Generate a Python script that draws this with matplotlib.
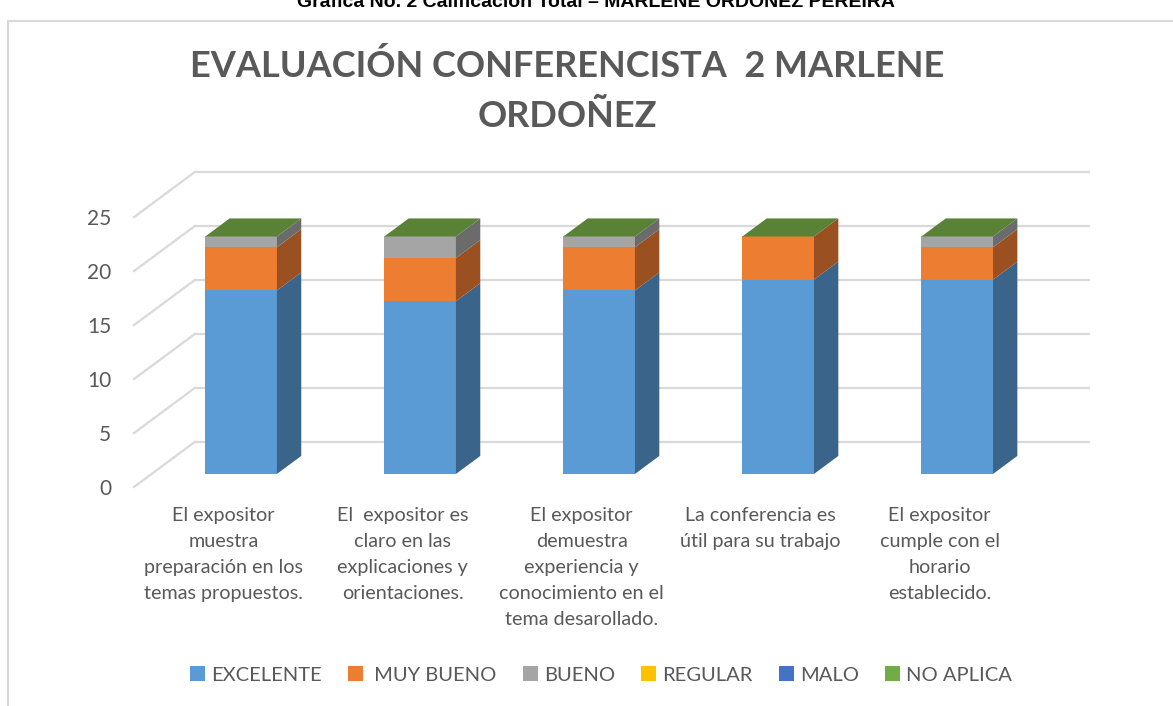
import matplotlib
matplotlib.use("Agg")
import matplotlib.pyplot as plt
from matplotlib.patches import Polygon, Patch
from matplotlib.lines import Line2D
from matplotlib.transforms import blended_transform_factory

# ---------------- data ----------------
categories = [
    "El expositor\nmuestra\npreparación en los\ntemas propuestos.",
    "El  expositor es\nclaro en las\nexplicaciones y\norientaciones.",
    "El expositor\ndemuestra\nexperiencia y\nconocimiento en el\ntema desarollado.",
    "La conferencia es\nútil para su trabajo",
    "El expositor\ncumple con el\nhorario\nestablecido.",
]
series_names = ["EXCELENTE", " MUY BUENO", "BUENO", "REGULAR", "MALO", "NO APLICA"]
excelente = [17, 16, 17, 18, 18]
muy_bueno = [4, 4, 4, 4, 3]
bueno = [1, 2, 1, 0, 1]
regular = [0, 0, 0, 0, 0]
malo = [0, 0, 0, 0, 0]
no_aplica = [0, 0, 0, 0, 0]
y_ticks = [0, 5, 10, 15, 20, 25]
title = "EVALUACIÓN CONFERENCISTA  2 MARLENE\nORDOÑEZ"
header = "Gráfica No. 2 Calificación Total – MARLENE ORDOÑEZ PEREIRA"

series = [excelente, muy_bueno, bueno, regular, malo, no_aplica]
front_colors = ["#5B9BD5", "#ED7D31", "#A5A5A5", "#FFC000", "#4472C4", "#70AD47"]
side_colors = ["#3A6489", "#9A5020", "#6B6B6B", "#A67C00", "#2C4A80", "#4A732F"]
top_colors = ["#6FA7DA", "#F08C47", "#B0B0B0", "#FFC926", "#5A84CC", "#598236"]

FONT = "Lato"
TXT = "#595959"
GRID = "#D9D9D9"

W, H = 1173, 706
fig = plt.figure(figsize=(W / 100, H / 100), dpi=100)

# oblique projection parameters (depth offsets in data units)
DX, DY = 0.34, 4.18
d0, d1 = 0.289, 0.689
bw = 0.4

ax_l, ax_r, ax_t, ax_b = 134, 1090, 172, 487
ax = fig.add_axes([ax_l / W, 1 - ax_b / H, (ax_r - ax_l) / W, (ax_b - ax_t) / H])
ax.set_xlim(-0.5, 4.5 + DX)
ax.set_ylim(0, 25 + DY)
for s in ax.spines.values():
    s.set_visible(False)
ax.set_xticks([])
ax.set_yticks(y_ticks)
ax.set_yticklabels([str(v) for v in y_ticks], fontsize=15, color=TXT, family=FONT)
ax.tick_params(axis="y", length=0, pad=16.5)
ax.patch.set_alpha(0)

# walls gridlines
for v in y_ticks:
    ax.plot([-0.5 + DX, 4.5 + DX], [v + DY, v + DY], color=GRID, lw=1.6, zorder=1,
            solid_capstyle="butt", clip_on=False)
    ax.plot([-0.5, -0.5 + DX], [v, v + DY], color=GRID, lw=1.6, zorder=1, clip_on=False)

# bars
n = len(categories)
for i in range(n):
    bottom = 0
    top_idx = 0
    for k, vals in enumerate(series):
        v = vals[i]
        if v > 0:
            ax.bar(i + d0 * DX, v, bottom=bottom + d0 * DY, width=bw,
                   color=front_colors[k], linewidth=0, zorder=3)
            xr0 = i + bw / 2 + d0 * DX
            xr1 = i + bw / 2 + d1 * DX
            side = Polygon([(xr0, bottom + d0 * DY), (xr1, bottom + d1 * DY),
                            (xr1, bottom + v + d1 * DY), (xr0, bottom + v + d0 * DY)],
                           closed=True, facecolor=side_colors[k], edgecolor="none", zorder=3)
            ax.add_patch(side)
        bottom += v
        top_idx = k
    T = bottom
    xl0 = i - bw / 2 + d0 * DX
    xr0 = i + bw / 2 + d0 * DX
    xl1 = i - bw / 2 + d1 * DX
    xr1 = i + bw / 2 + d1 * DX
    topf = Polygon([(xl0, T + d0 * DY), (xr0, T + d0 * DY), (xr1, T + d1 * DY), (xl1, T + d1 * DY)],
                   closed=True, facecolor=top_colors[top_idx], edgecolor="none", zorder=4)
    ax.add_patch(topf)

# category labels
trans = blended_transform_factory(ax.transData, fig.transFigure)
for i, lab in enumerate(categories):
    ax.text(i, 1 - 507 / H, lab, transform=trans, ha="center", va="top",
            multialignment="center", fontsize=14.2, color=TXT, family=FONT,
            linespacing=1.65)

# title
fig.text(567 / W, 1 - 91 / H, title, ha="center", va="center", fontsize=26,
         fontweight="bold", color=TXT, family=FONT, linespacing=1.65)

# header (partially cut at top, as in the source)
fig.text(596 / W, 1 - 7 / H, header, ha="center", va="baseline", fontsize=14,
         fontweight="bold", color="#000000", family="Liberation Sans")

# frame of the chart area
fig.add_artist(Line2D([8 / W, 8 / W], [0, 1 - 21 / H], color=GRID, lw=1.5))
fig.add_artist(Line2D([8 / W, 1], [1 - 21 / H, 1 - 21 / H], color=GRID, lw=1.5))

# legend
handles = [Patch(facecolor=c, edgecolor="none", label=nm) for c, nm in zip(front_colors, series_names)]
leg = fig.legend(handles=handles, ncol=6, loc="center", bbox_to_anchor=(601 / W, 1 - 675 / H),
                 frameon=False, handlelength=0.75, handleheight=0.75, handletextpad=0.3,
                 columnspacing=1.3, prop={"family": FONT, "size": 14.5})
for t in leg.get_texts():
    t.set_color(TXT)

fig.savefig("out.png", dpi=100)
